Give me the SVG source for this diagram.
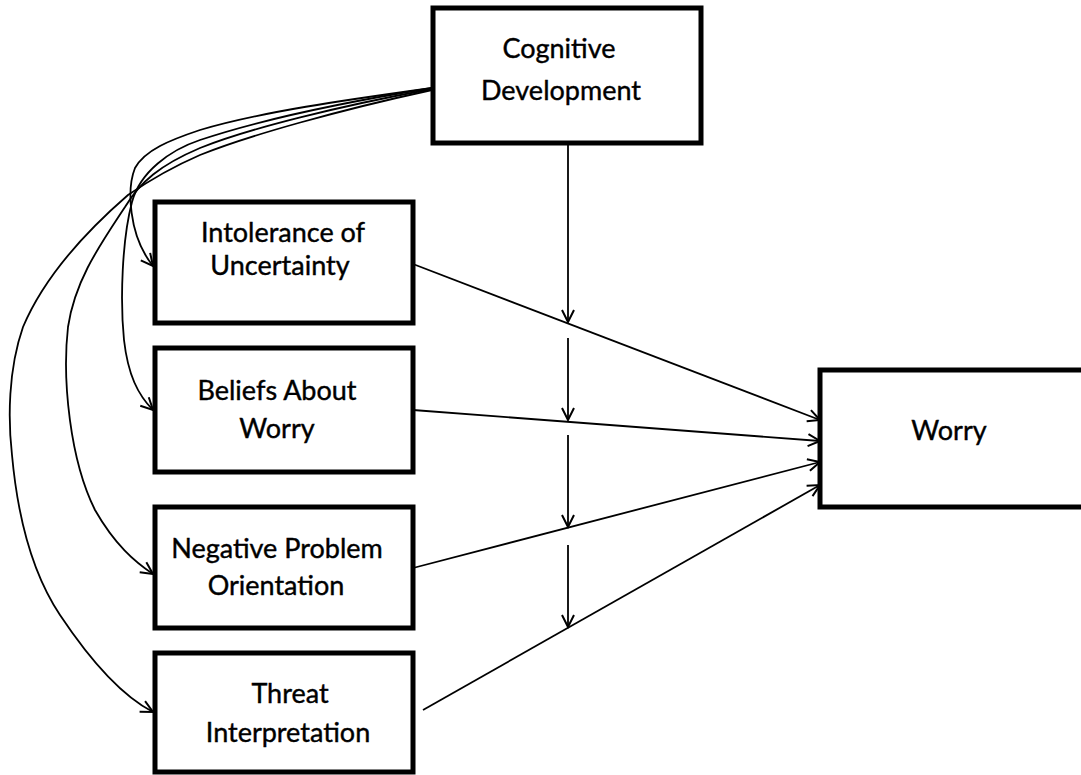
<svg xmlns="http://www.w3.org/2000/svg" width="1081" height="775" viewBox="0 0 1081 775">
<defs>
<marker id="arr" markerUnits="userSpaceOnUse" markerWidth="16" markerHeight="16" viewBox="0 0 16 16" refX="14" refY="8" orient="auto">
<path d="M2,2 L14,8 L2,14" fill="none" stroke="#000" stroke-width="2"/>
</marker>
<style>
.box{fill:#fff;stroke:#000;stroke-width:5}
.lbl{font-family:Lato,"Liberation Sans",sans-serif;font-size:27px;fill:#000;text-anchor:middle;stroke:#000;stroke-width:0.4}
.c{fill:none;stroke:#000;stroke-width:1.8;marker-end:url(#arr)}
</style>
</defs>
<rect width="1081" height="775" fill="#fff"/>
<g id="connectors">
<path class="c" d="M432,88 C345,100 260,112 200,130 C170,140 145,150 135,168 C127,188 128,235 153,266"/>
<path class="c" d="M432,88 C345,102 260,120 200,140 C170,150 140,172 132,202 C122,240 120,300 124,340 C128,375 138,395 153,410"/>
<path class="c" d="M432,89 C340,106 250,128 200,148 C160,165 140,182 125,207 C100,245 75,280 68,327 C62,380 70,460 95,510 C115,545 135,562 153,574"/>
<path class="c" d="M432,90 C340,110 250,135 200,155 C170,168 150,180 128,195 C90,228 45,275 23,327 C8,370 8,420 12,455 C17,510 30,570 60,615 C90,660 120,695 153,712"/>
<line class="c" x1="568" y1="143" x2="568" y2="322"/>
<line class="c" x1="568" y1="338" x2="568" y2="420"/>
<line class="c" x1="568" y1="435" x2="568" y2="527"/>
<line class="c" x1="568" y1="545" x2="568" y2="627"/>
<line class="c" x1="413" y1="264" x2="820" y2="420"/>
<line class="c" x1="413" y1="410" x2="820" y2="441"/>
<line class="c" x1="413" y1="568" x2="820" y2="462"/>
<line class="c" x1="423" y1="710" x2="820" y2="485"/>
</g>
<g id="cognitive">
<rect class="box" x="433" y="8" width="268" height="135"/>
<text class="lbl" x="559" y="58">Cognitive</text>
<text class="lbl" x="561" y="100">Development</text>
</g>
<g id="intolerance">
<rect class="box" x="155" y="202" width="258" height="121"/>
<text class="lbl" x="283" y="242">Intolerance of</text>
<text class="lbl" x="280" y="275">Uncertainty</text>
</g>
<g id="beliefs">
<rect class="box" x="155" y="348" width="258" height="124"/>
<text class="lbl" x="277" y="400">Beliefs About</text>
<text class="lbl" x="277" y="438">Worry</text>
</g>
<g id="negative">
<rect class="box" x="155" y="507" width="258" height="121"/>
<text class="lbl" x="277" y="558">Negative Problem</text>
<text class="lbl" x="276" y="595">Orientation</text>
</g>
<g id="threat">
<rect class="box" x="155" y="653" width="258" height="119"/>
<text class="lbl" x="290" y="703">Threat</text>
<text class="lbl" x="288" y="742">Interpretation</text>
</g>
<g id="worry">
<rect class="box" x="820" y="370" width="275" height="137"/>
<text class="lbl" x="949" y="440">Worry</text>
</g>
</svg>
